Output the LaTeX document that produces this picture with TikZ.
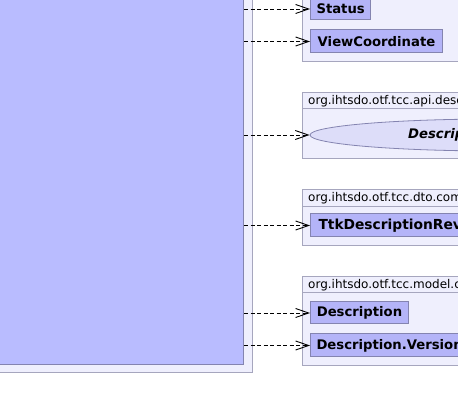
\documentclass[tikz,border=0pt]{standalone}
\usepackage{fontspec}
\setmainfont{DejaVu Sans}
\usetikzlibrary{arrows.meta,shapes.geometric,positioning}
\definecolor{pkgfill}{HTML}{EFEFFD}
\definecolor{pkgline}{HTML}{A6A6BE}
\definecolor{clsfill}{HTML}{B4B4F8}
\definecolor{clsline}{HTML}{8484B0}
\definecolor{mainfill}{HTML}{B9BCFF}
\definecolor{ifacefill}{HTML}{DDDDF9}
\tikzset{x=1pt, y=-1pt,
  pkg/.style={draw=pkgline, fill=pkgfill, line width=1pt, inner sep=0pt,
    anchor=north west, minimum width=200pt},
  pkgname/.style={font=\fontsize{12}{14}\selectfont, anchor=base west, inner sep=0pt},
  cls/.style={draw=clsline, fill=clsfill, line width=1pt, anchor=west,
    font=\fontsize{13.2}{15}\selectfont\bfseries, inner xsep=6pt, inner ysep=0pt},
  iface/.style={ellipse, draw=clsline, fill=ifacefill, line width=0.8pt, inner sep=0pt},
  dep/.style={draw, line width=0.9pt, dash pattern=on 4pt off 2.5pt,
    -{Straight Barb[length=13pt,width=9pt,line width=0.9pt]}}
}
\begin{document}
\begin{tikzpicture}
  \clip (0,0) rectangle (458,411);
  \useasboundingbox (0,0) rectangle (458,411);

  % the class on the left
  \fill[pkgfill, draw=pkgline, line width=1pt] (-10,-10) rectangle (252,373);
  \node[draw=clsline, fill=mainfill, line width=1pt, inner sep=0pt, anchor=south east,
    minimum width=254pt, minimum height=375pt] (main) at (244,365) {};

  % packages
  \node[pkg, minimum height=71pt] (pkgA) at (302,-10) {};
  \node[pkg, minimum height=66pt] (pkgB) at (302,92) {};
  \node[pkg, minimum height=56pt] (pkgC) at (302,189) {};
  \node[pkg, minimum height=89pt] (pkgD) at (302,276) {};

  \draw[pkgline, line width=1pt] ([yshift=-17pt]pkgB.north west) -- ([yshift=-17pt]pkgB.north east);
  \draw[pkgline, line width=1pt] ([yshift=-18pt]pkgC.north west) -- ([yshift=-18pt]pkgC.north east);
  \draw[pkgline, line width=1pt] ([yshift=-17pt]pkgD.north west) -- ([yshift=-17pt]pkgD.north east);

  \node[pkgname] (nameB) at ([xshift=6pt,yshift=-13pt]pkgB.north west) {org.ihtsdo.otf.tcc.api.desc};
  \node[pkgname] (nameC) at ([xshift=6pt,yshift=-13pt]pkgC.north west) {org.ihtsdo.otf.tcc.dto.com};
  \node[pkgname] (nameD) at ([xshift=6pt,yshift=-13pt]pkgD.north west) {org.ihtsdo.otf.tcc.model.c};

  % classes
  \node[cls, minimum width=59pt, minimum height=22pt] (status) at (310,9) {Status};
  \node[cls, minimum width=132pt, minimum height=23pt] (viewcoord) at (310,41.5) {ViewCoordinate};
  \node[iface, minimum width=372pt, minimum height=32pt] (descbi) at (496,135) {};
  \node[font=\fontsize{13.2}{15}\selectfont\bfseries\itshape, anchor=west, inner sep=0pt]
    (descbiname) at (408,135) {Descrip};
  \node[cls, text width=200pt, align=left, minimum height=23pt, inner xsep=8pt,
    font=\fontsize{13.8}{15}\selectfont\bfseries] (ttkdesc) at (310,225.5) {TtkDescriptionRev};
  \node[cls, minimum width=98pt, minimum height=22pt] (desc) at (310,313) {Description};
  \node[cls, text width=200pt, align=left, minimum height=23pt] (descver) at (310,345.5) {Description.Version};

  % dependencies
  \draw[dep] (main.east |- status.west) -- (status.west);
  \draw[dep] (main.east |- viewcoord.west) -- (viewcoord.west);
  \draw[dep] (main.east |- descbi.west) -- (descbi.west);
  \draw[dep] (main.east |- ttkdesc.west) -- (ttkdesc.west);
  \draw[dep] (main.east |- desc.west) -- (desc.west);
  \draw[dep] (main.east |- descver.west) -- (descver.west);
\end{tikzpicture}
\end{document}
